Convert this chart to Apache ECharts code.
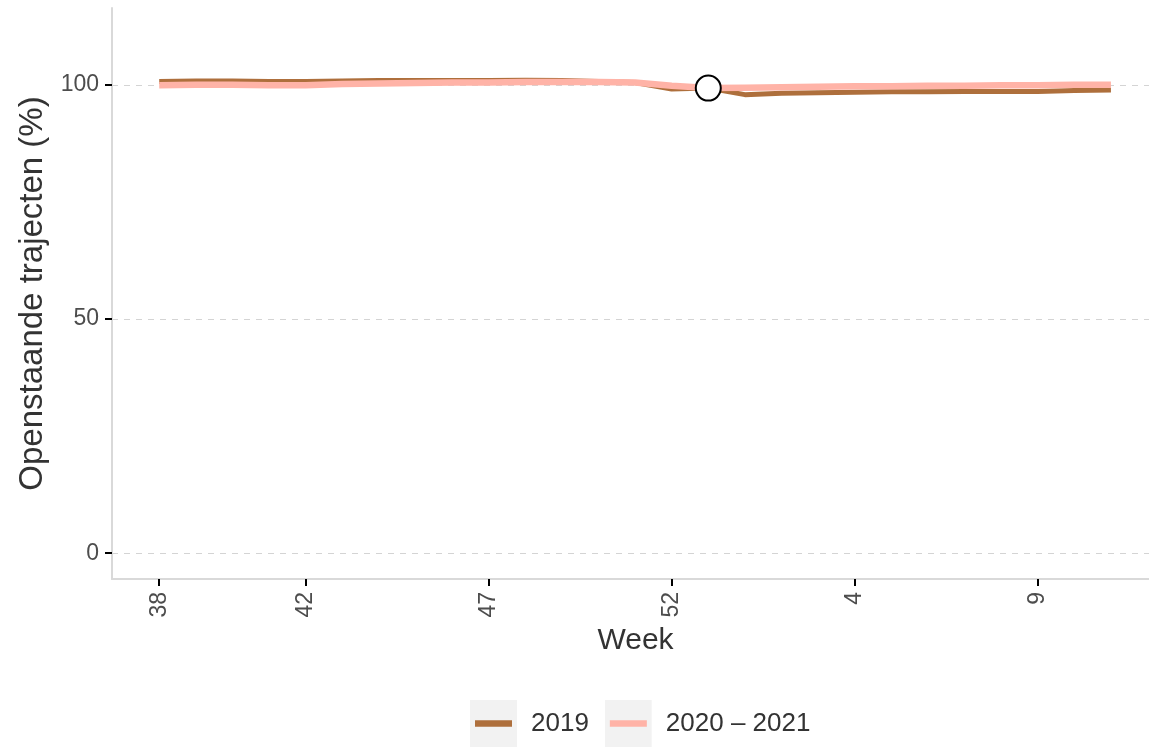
<html>
<head>
<meta charset="utf-8">
<script src="https://cdn.jsdelivr.net/npm/echarts@6/dist/echarts.min.js"></script>
<style>
    body { margin: 0; padding: 0; background: #ffffff; }
    #chart { width: 1149px; height: 748px; }
</style>
</head>
<body>
<div id="chart"></div>
<script type="text/javascript">
    // weeks from 38 (2020) through 11 (2021)
    var weeks = ['38', '39', '40', '41', '42', '43', '44', '45', '46', '47', '48', '49', '50', '51', '52', '53',
        '1', '2', '3', '4', '5', '6', '7', '8', '9', '10', '11'];
    var tickWeeks = ['38', '42', '47', '52', '4', '9'];
    var yTicks = [0, 50, 100];
    var values2019 = [100.7, 100.8, 100.8, 100.7, 100.7, 100.8, 100.9, 100.9, 100.9, 100.9, 101.0, 100.9, 100.7, 100.5, 99.1, 99.3,
        97.9, 98.2, 98.3, 98.4, 98.5, 98.5, 98.6, 98.6, 98.6, 98.8, 98.9];
    var values2020 = [99.9, 100.0, 100.0, 99.9, 99.9, 100.2, 100.3, 100.4, 100.5, 100.5, 100.6, 100.6, 100.6, 100.5, 99.8, 99.3,
        99.4, 99.5, 99.6, 99.7, 99.7, 99.8, 99.8, 99.9, 99.9, 100.0, 100.0];
    var currentWeek = '53';
    var currentValue = 99.3;

    var col2019 = '#AE6F3C';
    var col2020 = '#FFB3A7';

    function keyIcon(color) {
        var svg = '<svg xmlns="http://www.w3.org/2000/svg" width="47" height="47">' +
            '<rect x="0" y="0" width="47" height="47" fill="#F2F2F2"/>' +
            '<line x1="5" y1="23.5" x2="42" y2="23.5" stroke="' + color + '" stroke-width="6.5"/></svg>';
        return 'image://data:image/svg+xml;charset=utf-8,' + encodeURIComponent(svg);
    }

    var toPairs = function (arr) {
        var out = [];
        for (var i = 0; i < arr.length; i++) out.push([i, arr[i]]);
        return out;
    };
    var tickIdx = tickWeeks.map(function (w) { return weeks.indexOf(w); });

    var chart = echarts.init(document.getElementById('chart'));
    var option = {
        animation: false,
        textStyle: { fontFamily: 'Liberation Sans, Arial, sans-serif' },
        grid: { left: 112, top: 8, right: 0, bottom: 169, containLabel: false },
        legend: {
            left: 470,
            top: 700,
            padding: 0,
            itemWidth: 47,
            itemHeight: 47,
            itemGap: 16,
            textStyle: { fontSize: 26, color: '#333333', padding: [0, 0, 0, 9] },
            data: [
                { name: '2019', icon: keyIcon(col2019) },
                { name: '2020 \u2013 2021', icon: keyIcon(col2020) }
            ]
        },
        xAxis: {
            type: 'value',
            min: -1.29,
            max: 27.04,
            name: 'Week',
            nameLocation: 'middle',
            nameGap: 42,
            nameTextStyle: { fontSize: 30, color: '#333333', padding: [0, 0, 0, 10] },
            axisLine: { onZero: false, lineStyle: { color: '#D9D9D9', width: 2 } },
            axisTick: { customValues: tickIdx, length: 7, lineStyle: { color: '#000000', width: 2 } },
            axisLabel: {
                customValues: tickIdx,
                rotate: 90,
                margin: 13,
                fontSize: 23,
                color: '#4D4D4D',
                formatter: function (v) { return weeks[Math.round(v)]; }
            },
            splitLine: { show: false }
        },
        yAxis: {
            type: 'value',
            min: -5.5,
            max: 116.4,
            name: 'Openstaande trajecten (%)',
            nameLocation: 'middle',
            nameGap: 58,
            nameTextStyle: { fontSize: 33, color: '#333333' },
            axisLine: { show: true, onZero: false, lineStyle: { color: '#D9D9D9', width: 2 } },
            axisTick: { show: true, customValues: yTicks, length: 7, lineStyle: { color: '#000000', width: 2 } },
            axisLabel: { customValues: yTicks, margin: 13, fontSize: 23, color: '#4D4D4D' },
            splitLine: { show: true, lineStyle: { color: '#D4D4D4', width: 1.2, type: [6, 6] } }
        },
        series: [
            {
                name: '2019',
                type: 'line',
                data: toPairs(values2019),
                showSymbol: false,
                lineStyle: { color: col2019, width: 5 },
                itemStyle: { color: col2019 },
                z: 2
            },
            {
                name: '2020 \u2013 2021',
                type: 'line',
                data: toPairs(values2020),
                showSymbol: false,
                lineStyle: { color: col2020, width: 6.5 },
                itemStyle: { color: col2020 },
                z: 3
            },
            {
                name: 'huidig',
                type: 'scatter',
                data: [[weeks.indexOf(currentWeek), currentValue]],
                symbolSize: 25,
                itemStyle: { color: '#ffffff', borderColor: '#000000', borderWidth: 2, opacity: 1 },
                z: 5
            }
        ]
    };
    chart.setOption(option);
</script>
</body>
</html>
